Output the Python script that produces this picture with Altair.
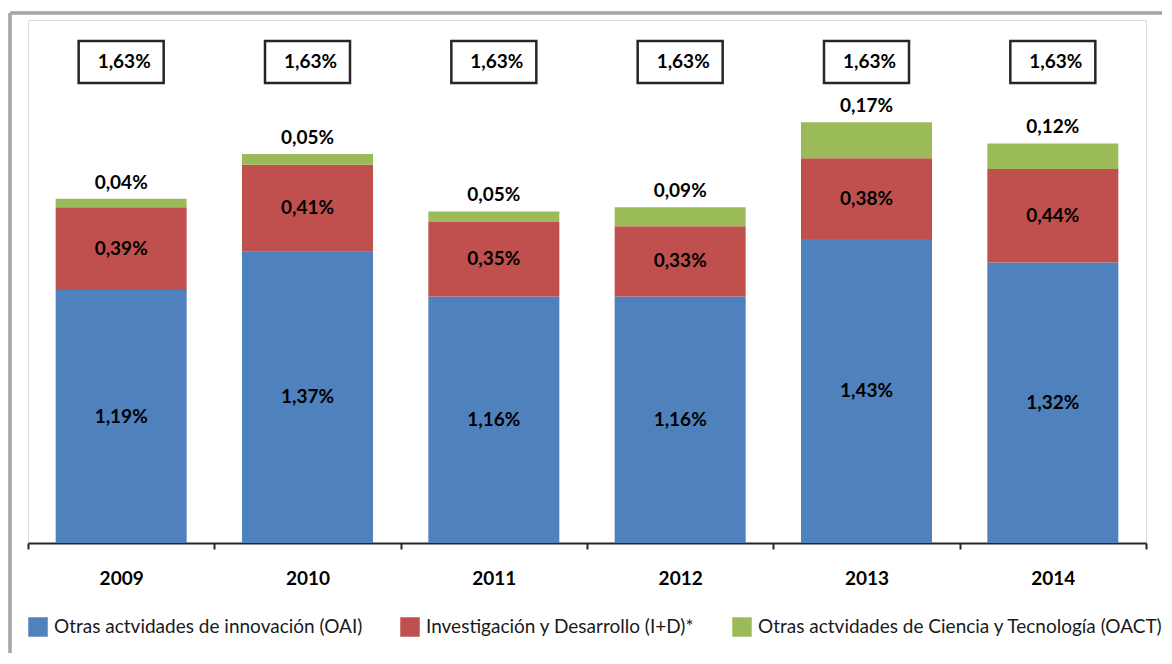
import altair as alt
import pandas as pd

years = ["2009", "2010", "2011", "2012", "2013", "2014"]
oai = [1.19, 1.37, 1.16, 1.16, 1.43, 1.32]
imasd = [0.39, 0.41, 0.35, 0.33, 0.38, 0.44]
oact = [0.04, 0.05, 0.05, 0.09, 0.17, 0.12]
top_labels = ["1,63%", "1,63%", "1,63%", "1,63%", "1,63%", "1,63%"]

series = [
    "Otras actvidades de innovación (OAI)",
    "Investigación y Desarrollo (I+D)*",
    "Otras actvidades de Ciencia y Tecnología (OACT)",
]
colors = ["#4f81bd", "#c0504d", "#9bbb59"]

rows = []
for i, y in enumerate(years):
    base = 0.0
    for k, (name, vals) in enumerate(zip(series, [oai, imasd, oact])):
        v = vals[i]
        rows.append({"year": y, "serie": name, "order": k, "v": v,
                     "y0": base, "y1": base + v, "mid": base + v / 2,
                     "label": f"{v:.2f}".replace(".", ",") + "%"})
        base += v
df = pd.DataFrame(rows)
tops = pd.DataFrame({"year": years, "label": top_labels})

FONT = "Lato"
YMAX = 2.461
LBL = 19

xenc = alt.X("year:N", title=None, sort=years,
             scale=alt.Scale(paddingInner=0, paddingOuter=0),
             axis=alt.Axis(labelFontSize=LBL, labelFontWeight="bold", labelFont=FONT,
                           labelColor="#000000", labelPadding=20, tickBand="extent",
                           tickSize=6, tickColor="#262626", tickWidth=2,
                           domainColor="#262626", domainWidth=2, labelAngle=0))
yscale = alt.Scale(domain=[0, YMAX], nice=False, zero=True)

bars = alt.Chart(df).mark_bar(width=131).encode(
    x=xenc,
    y=alt.Y("y0:Q", scale=yscale, axis=None),
    y2="y1:Q",
    color=alt.Color("serie:N", scale=alt.Scale(domain=series, range=colors),
                    legend=alt.Legend(title=None, orient="none", legendX=0, legendY=597,
                                      direction="horizontal", symbolType="square",
                                      symbolSize=380, symbolStrokeWidth=0,
                                      labelFont=FONT, labelFontSize=19, labelColor="#1a1a1a",
                                      labelLimit=600, columnPadding=37, labelOffset=6)),
)

inner = alt.Chart(df).transform_filter("datum.order < 2").mark_text(
    font=FONT, fontSize=LBL, fontWeight="bold", color="#000000", baseline="middle", dy=0
).encode(x=alt.X("year:N", sort=years), y=alt.Y("mid:Q", scale=yscale), text="label:N")

toplab = alt.Chart(df).transform_filter("datum.order == 2").mark_text(
    font=FONT, fontSize=LBL, fontWeight="bold", color="#000000", baseline="middle", dy=-16
).encode(x=alt.X("year:N", sort=years), y=alt.Y("y1:Q", scale=yscale), text="label:N")

boxes = alt.Chart(tops).mark_bar(width=85, fill="#ffffff", stroke="#262626", strokeWidth=2.5).encode(
    x=alt.X("year:N", sort=years), y=alt.datum(2.362), y2=alt.datum(2.165)
)
boxtext = alt.Chart(tops).mark_text(
    font=FONT, fontSize=LBL, fontWeight="bold", color="#000000", baseline="middle", dx=3, dy=0
).encode(x=alt.X("year:N", sort=years), y=alt.datum(2.264), text="label:N")

frame_top = alt.Chart(tops).mark_rule(stroke="#a6a6a6", strokeWidth=2.5).encode(
    x=alt.value(-18), x2=alt.value(1140), y=alt.value(-7)
)
frame_left = alt.Chart(tops).mark_rule(stroke="#a6a6a6", strokeWidth=2.5).encode(
    x=alt.value(-18), y=alt.value(-7), y2=alt.value(640)
)

chart = alt.layer(frame_top, frame_left, bars, inner, toplab, boxes, boxtext).properties(
    width=1118, height=523,
    padding={"left": 20, "top": 12, "right": 16, "bottom": 110},
    autosize=alt.AutoSizeParams(type="none"),
).configure_view(stroke=None).configure(background="#ffffff")

chart.save("out.html", embed_options={"renderer": "svg", "actions": False})
